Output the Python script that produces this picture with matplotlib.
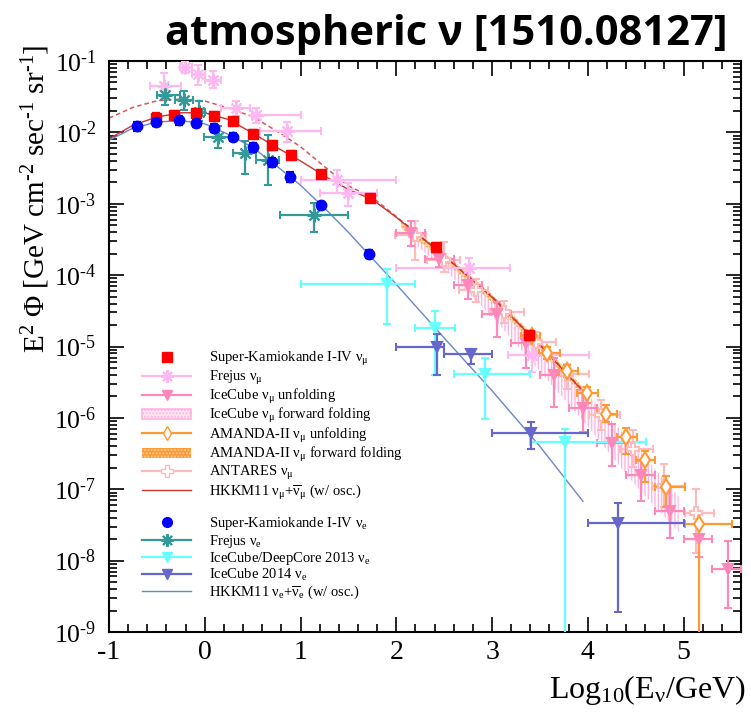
import numpy as np
import matplotlib
matplotlib.use("Agg")
import matplotlib.pyplot as plt
from matplotlib.lines import Line2D
from matplotlib.patches import Patch
from matplotlib.ticker import MultipleLocator, LogLocator, FuncFormatter, NullFormatter

plt.rcParams['font.family'] = ['Liberation Serif', 'DejaVu Serif']
plt.rcParams['mathtext.fontset'] = 'custom'
plt.rcParams['mathtext.rm'] = 'Liberation Serif'
plt.rcParams['mathtext.it'] = 'Liberation Serif:italic'
plt.rcParams['mathtext.bf'] = 'Liberation Serif:bold'
plt.rcParams['hatch.linewidth'] = 1.0

HY = '\u2010'  # typographic hyphen used for exponents (ROOT style)

# ---------------- data (log10 E/GeV, E^2 Phi) ----------------
# Super-Kamiokande nu_mu
sk_mu_x = [-0.51, -0.32, -0.09, 0.10, 0.29, 0.50, 0.70, 0.90, 1.21, 1.73, 2.41, 3.39]
sk_mu_y = [0.0160, 0.0175, 0.0188, 0.0171, 0.0144, 0.0095, 0.0066, 0.0048, 0.0026, 0.00121, 2.5e-4, 1.44e-5]
sk_mu_rel = [0.15, 0.14, 0.13, 0.12, 0.12, 0.13, 0.14, 0.14, 0.10, 0.10, 0.12, 0.15]

# Super-Kamiokande nu_e
sk_e_x = [-0.71, -0.51, -0.27, -0.09, 0.10, 0.29, 0.50, 0.70, 0.89, 1.21, 1.72]
sk_e_y = [0.0122, 0.0141, 0.0149, 0.0137, 0.0116, 0.0087, 0.0062, 0.0038, 0.0024, 9.6e-4, 2.0e-4]
sk_e_rel = [0.15, 0.14, 0.14, 0.13, 0.13, 0.13, 0.14, 0.15, 0.15, 0.12, 0.14]

# Frejus nu_mu
fr_mu_x = [-0.43, -0.205, -0.066, 0.084, 0.328, 0.538, 0.86, 1.38, 1.50, 2.76, 3.42]
fr_mu_logy = [-1.355, -1.089, -1.18, -1.262, -1.659, -1.753, -1.982, -2.669, -2.856, -3.894, -5.12]
fr_mu_xlo = [-0.57, -0.26, -0.135, 0.004, 0.168, 0.49, 0.58, 1.0, 1.2, 2.0, 3.17]
fr_mu_xhi = [-0.25, -0.135, 0.004, 0.167, 0.475, 1.01, 1.21, 2.0, 1.8, 3.19, 4.01]
fr_mu_logylo = [-1.52, -1.17, -1.34, -1.38, -1.776, -1.87, -2.13, -2.855, -3.03, -4.07, -5.36]
fr_mu_logyhi = [-1.17, -1.005, -1.05, -1.145, -1.565, -1.66, -1.85, -2.53, -2.715, -3.76, -4.96]

# IceCube nu_mu unfolding
ic_mu_x = [2.149, 2.45, 2.748, 3.048, 3.35, 3.648, 3.955, 4.25, 4.554, 4.858, 5.158, 5.46]
ic_mu_logy = [-3.41, -3.78, -4.14, -4.54, -4.955, -5.404, -5.858, -6.35, -6.806, -7.30, -7.70, -8.115]
ic_mu_xlo = [2.0, 2.3, 2.6, 2.9, 3.2, 3.5, 3.8, 4.1, 4.4, 4.7, 5.0, 5.3]
ic_mu_xhi = [2.3, 2.6, 2.9, 3.2, 3.5, 3.8, 4.1, 4.4, 4.7, 5.0, 5.3, 5.6]
ic_mu_logylo = [-3.595, -3.89, -4.34, -4.87, -5.30, -5.85, -6.20, -6.68, -7.16, -7.68, -7.95, -8.67]
ic_mu_logyhi = [-3.24, -3.68, -3.90, -4.375, -4.84, -5.165, -5.61, -6.09, -6.60, -6.97, -7.50, -7.72]

# IceCube nu_mu forward folding band
icff_x = [2.1, 2.5, 3.0, 3.5, 4.0, 4.5, 4.95]
icff_loglo = [-3.45, -3.92, -4.58, -5.35, -6.12, -6.95, -7.60]
icff_loghi = [-3.30, -3.72, -4.32, -5.00, -5.68, -6.40, -7.10]

# AMANDA-II nu_mu unfolding
am_x = [3.42, 3.578, 3.787, 3.99, 4.19, 4.397, 4.597, 4.816, 5.165]
am_logy = [-4.85, -5.09, -5.343, -5.652, -5.94, -6.27, -6.586, -6.97, -7.484]
am_xlo = [3.30, 3.49, 3.70, 3.89, 4.10, 4.30, 4.50, 4.70, 5.01]
am_xhi = [3.50, 3.71, 3.90, 4.11, 4.30, 4.51, 4.70, 5.01, 5.51]
am_logylo = [-4.91, -5.17, -5.43, -5.79, -6.06, -6.51, -6.90, -7.25, -10.0]
am_logyhi = [-4.79, -5.01, -5.26, -5.57, -5.82, -6.14, -6.465, -6.82, -7.30]

# AMANDA-II nu_mu forward folding band
amff_x = [2.05, 2.5, 3.0, 3.5, 3.95]
amff_loglo = [-3.34, -3.80, -4.38, -5.04, -5.68]
amff_loghi = [-3.24, -3.69, -4.27, -4.93, -5.57]

# ANTARES nu_mu
an_x = [2.20, 2.50, 2.83, 3.125, 3.456, 3.787, 4.136, 4.47, 4.80, 5.13]
an_logy = [-3.44, -3.79, -4.21, -4.516, -4.94, -5.38, -5.965, -6.43, -6.95, -7.335]
an_xlo = [1.99, 2.32, 2.66, 2.98, 3.33, 3.67, 4.01, 4.34, 4.67, 5.01]
an_xhi = [2.31, 2.67, 2.96, 3.33, 3.67, 4.01, 4.34, 4.68, 5.01, 5.32]
an_logylo = [-3.79, -3.95, -4.38, -4.67, -5.10, -5.59, -6.175, -6.69, -7.25, -7.90]
an_logyhi = [-3.24, -3.53, -4.05, -4.36, -4.80, -5.24, -5.75, -6.175, -6.64, -6.99]

# HKKM11 nu_mu + nubar_mu (w/ osc.) and dashed (w/o osc.)
hk_mu_x = [-1.0, -0.75, -0.5, -0.25, 0.0, 0.25, 0.5, 0.75, 1.0, 1.25, 1.5, 1.75, 2.0, 2.5, 3.0, 3.5, 4.0]
hk_mu_logy = [-2.09, -1.90, -1.785, -1.725, -1.725, -1.82, -2.01, -2.21, -2.40, -2.61, -2.80, -2.94, -3.19, -3.73, -4.31, -4.98, -5.70]
hk_mu_noosc_logy = [-1.80, -1.65, -1.557, -1.535, -1.56, -1.66, -1.78, -1.98, -2.20, -2.48, -2.75, -2.91, -3.18, -3.72, -4.30, -4.97, -5.69]

# Frejus nu_e
fr_e_x = [-0.414, -0.212, -0.056, 0.143, 0.42, 0.66, 1.137]
fr_e_logy = [-1.472, -1.542, -1.715, -2.066, -2.29, -2.389, -3.16]
fr_e_xlo = [-0.50, -0.31, -0.12, -0.01, 0.29, 0.54, 0.79]
fr_e_xhi = [-0.26, -0.12, 0.0, 0.28, 0.53, 0.78, 1.50]
fr_e_logylo = [-1.61, -1.683, -1.846, -2.22, -2.585, -2.74, -3.394]
fr_e_logyhi = [-1.32, -1.425, -1.565, -1.916, -2.118, -2.04, -2.996]

# IceCube/DeepCore 2013 nu_e
dc_x = [1.904, 2.40, 2.93, 3.763]
dc_logy = [-4.118, -4.735, -5.38, -6.34]
dc_xlo = [1.0, 2.2, 2.6, 3.40]
dc_xhi = [2.2, 2.61, 3.4, 4.61]
dc_logylo = [-4.69, -5.40, -6.02, -10.0]
dc_logyhi = [-3.91, -4.50, -5.16, -6.15]

# IceCube 2014 nu_e
ic_e_x = [2.426, 2.776, 3.404, 4.32]
ic_e_logy = [-5.006, -5.11, -6.213, -7.475]
ic_e_xlo = [2.0, 2.5, 3.0, 4.0]
ic_e_xhi = [2.5, 3.0, 4.0, 5.0]
ic_e_logylo = [-5.40, -5.24, -6.44, -8.72]
ic_e_logyhi = [-4.83, -5.03, -6.06, -7.19]

# HKKM11 nu_e + nubar_e (w/ osc.)
hk_e_x = [-1.0, -0.75, -0.5, -0.25, 0.0, 0.25, 0.5, 0.75, 1.0, 1.25, 1.5, 2.0, 2.5, 3.0, 3.5, 3.95]
hk_e_logy = [-2.11, -1.94, -1.855, -1.835, -1.88, -2.03, -2.21, -2.47, -2.74, -3.06, -3.40, -4.13, -4.88, -5.62, -6.40, -7.17]

# ---------------- colours ----------------
c_skmu = '#ff0000'
c_ske = '#0000ff'
c_frmu = '#ffb8f0'
c_icmu = '#ff88bb'
c_icff = '#ffb3e0'
c_am = '#ff9933'
c_an = '#ffbbbb'
c_hkmu = '#cc3333'
c_fre = '#339999'
c_dc = '#66ffff'
c_ice = '#6666cc'
c_hke = '#6688cc'


def p(v):
    return 10.0 ** np.asarray(v, dtype=float)


fig = plt.figure(figsize=(7.51, 7.19), dpi=100)
ax = fig.add_axes([109 / 751, 1 - 632 / 719, 632 / 751, 571 / 719])
ax.set_yscale('log')
ax.set_xlim(-1, 5.6)
ax.set_ylim(1e-9, 1e-1)


def eb(x, logy, xlo, xhi, logylo, logyhi, color, marker, ms, mfc=None, mew=1.5, z=3):
    x = np.asarray(x, float)
    y = p(logy)
    ylo = p(logylo)
    yhi = p(logyhi)
    ax.errorbar(x, y, xerr=[x - np.asarray(xlo), np.asarray(xhi) - x],
                yerr=[y - ylo, yhi - y], fmt='', linestyle='none', marker=marker,
                color=color, ms=ms,
                mfc=mfc if mfc is not None else color, mec=color, mew=mew,
                elinewidth=1.6, capsize=3, capthick=1.6, zorder=z)


# bands
ax.fill_between(icff_x, p(icff_loglo), p(icff_loghi), facecolor='none',
                edgecolor=c_icff, hatch='|||||', linewidth=0, zorder=1)
ax.fill_between(amff_x, p(amff_loglo), p(amff_loghi), facecolor='#ffd9a8',
                edgecolor=c_am, hatch='.....', linewidth=0, zorder=2)

# curves
ax.plot(hk_mu_x, p(hk_mu_noosc_logy), color='#dd5555', lw=1.1, ls=(0, (3, 2)), zorder=2)
ax.plot(hk_mu_x, p(hk_mu_logy), color=c_hkmu, lw=1.0, zorder=2)
ax.plot(hk_e_x, p(hk_e_logy), color=c_hke, lw=1.0, zorder=2)

# data
eb(fr_mu_x, fr_mu_logy, fr_mu_xlo, fr_mu_xhi, fr_mu_logylo, fr_mu_logyhi, c_frmu, (8, 2, 0), 10)
eb(an_x, an_logy, an_xlo, an_xhi, an_logylo, an_logyhi, c_an, 'P', 9, mfc='white')
eb(ic_mu_x, ic_mu_logy, ic_mu_xlo, ic_mu_xhi, ic_mu_logylo, ic_mu_logyhi, c_icmu, 'v', 7)
eb(am_x, am_logy, am_xlo, am_xhi, am_logylo, am_logyhi, c_am, 'd', 8, mfc='white')
eb(fr_e_x, fr_e_logy, fr_e_xlo, fr_e_xhi, fr_e_logylo, fr_e_logyhi, c_fre, (8, 2, 0), 10)
eb(dc_x, dc_logy, dc_xlo, dc_xhi, dc_logylo, dc_logyhi, c_dc, 'v', 7)
eb(ic_e_x, ic_e_logy, ic_e_xlo, ic_e_xhi, ic_e_logylo, ic_e_logyhi, c_ice, 'v', 7)

for xs, ys, rel, col, mk, ms in [(sk_mu_x, sk_mu_y, sk_mu_rel, c_skmu, 's', 7.5),
                                 (sk_e_x, sk_e_y, sk_e_rel, c_ske, 'o', 7.5)]:
    ys = np.asarray(ys)
    er = ys * np.asarray(rel)
    ax.errorbar(xs, ys, yerr=er, fmt=mk, color=col, ms=ms, mec=col,
                elinewidth=1.6, capsize=3, capthick=1.6, zorder=5)

# axes style
for s in ax.spines.values():
    s.set_linewidth(1.5)
ax.xaxis.set_major_locator(MultipleLocator(1))
ax.xaxis.set_minor_locator(MultipleLocator(0.2))
ax.yaxis.set_major_locator(LogLocator(base=10, numticks=20))
ax.yaxis.set_minor_locator(LogLocator(base=10, subs=np.arange(2, 10), numticks=20))
ax.yaxis.set_minor_formatter(NullFormatter())
ax.yaxis.set_major_formatter(FuncFormatter(
    lambda v, pos: '10$^{' + HY + '%d}$' % abs(int(round(np.log10(v))))))
ax.xaxis.set_major_formatter(FuncFormatter(
    lambda v, pos: (HY if v < 0 else '') + '%d' % abs(int(round(v)))))
ax.tick_params(which='both', direction='in', top=True, right=True, width=1.2)
ax.tick_params(which='major', length=11)
ax.tick_params(which='minor', length=5.5)
ax.tick_params(axis='y', which='major', labelsize=18.5, pad=9)
ax.tick_params(axis='x', which='major', labelsize=20, pad=6)

ax.set_ylabel('E$^{2}$ Φ [GeV cm$^{' + HY + '2}$ sec$^{' + HY + '1}$ sr$^{' + HY + '1}$]',
              fontsize=21, loc='top')
ax.yaxis.set_label_coords(-0.09, 1.028)
ax.set_xlabel(r'Log$_{10}$(E$_{\mathrm{\nu}}$/GeV)', fontsize=23, loc='right')
ax.xaxis.set_label_coords(1.008, -0.072)

fig.text(0.969, 0.937, 'atmospheric ν [1510.08127]', ha='right', va='baseline',
         fontsize=30, fontweight='bold',
         family=['Liberation Sans Narrow', 'Open Sans', 'DejaVu Sans'])

# legend
handles = [
    Line2D([], [], ls='none', marker='s', color=c_skmu, ms=7),
    Line2D([], [], color=c_frmu, lw=1.6, marker=(8, 2, 0), ms=9, mew=1.5),
    Line2D([], [], color=c_icmu, lw=1.6, marker='v', ms=7),
    Patch(facecolor='#ffe6f3', edgecolor=c_icff, hatch='.....', lw=1.2),
    Line2D([], [], color=c_am, lw=1.6, marker='d', ms=7, mfc='white'),
    Patch(facecolor=c_am, edgecolor='#ffcc99', hatch='.....', lw=0),
    Line2D([], [], color=c_an, lw=1.6, marker='P', ms=8, mfc='white'),
    Line2D([], [], color=c_hkmu, lw=1.0),
    Line2D([], [], ls='none'),
    Line2D([], [], ls='none', marker='o', color=c_ske, ms=7),
    Line2D([], [], color=c_fre, lw=1.6, marker=(8, 2, 0), ms=9, mew=1.5),
    Line2D([], [], color=c_dc, lw=1.6, marker='v', ms=7),
    Line2D([], [], color=c_ice, lw=1.6, marker='v', ms=7),
    Line2D([], [], color=c_hke, lw=1.0),
]
labels = [
    r'Super-Kamiokande I-IV ν$_{\mathrm{\mu}}$',
    r'Frejus ν$_{\mathrm{\mu}}$',
    r'IceCube ν$_{\mathrm{\mu}}$ unfolding',
    r'IceCube ν$_{\mathrm{\mu}}$ forward folding',
    r'AMANDA-II ν$_{\mathrm{\mu}}$ unfolding',
    r'AMANDA-II ν$_{\mathrm{\mu}}$ forward folding',
    r'ANTARES ν$_{\mathrm{\mu}}$',
    r'HKKM11 ν$_{\mathrm{\mu}}$+$\overline{\mathrm{\nu}}_{\mathrm{\mu}}$ (w/ osc.)',
    ' ',
    r'Super-Kamiokande I-IV ν$_{\mathrm{e}}$',
    r'Frejus ν$_{\mathrm{e}}$',
    r'IceCube/DeepCore 2013 ν$_{\mathrm{e}}$',
    r'IceCube 2014 ν$_{\mathrm{e}}$',
    r'HKKM11 ν$_{\mathrm{e}}$+$\overline{\mathrm{\nu}}_{\mathrm{e}}$ (w/ osc.)',
]
leg = ax.legend(handles, labels, loc='upper left', bbox_to_anchor=(0.052, 0.493),
                frameon=False, fontsize=10.5, handlelength=3.4, handleheight=0.7,
                handletextpad=1.2, labelspacing=0.02, borderpad=0, borderaxespad=0)

fig.savefig('out.png', dpi=100, facecolor='white')
